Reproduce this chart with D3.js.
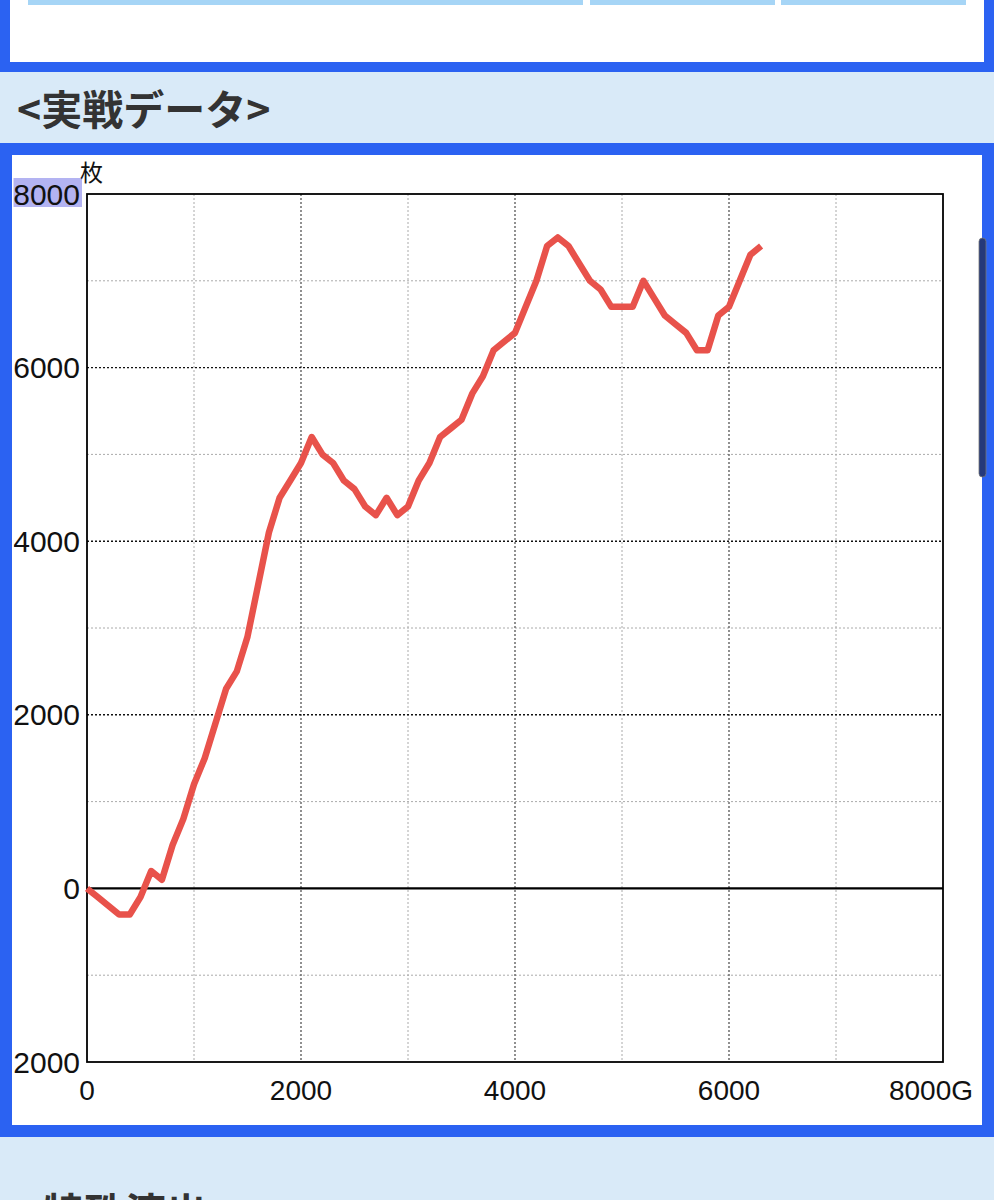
<!DOCTYPE html>
<html><head><meta charset="utf-8">
<script src="https://cdn.jsdelivr.net/npm/d3@7"></script>
<style>
html,body{margin:0;padding:0;background:#d9eaf8;overflow:hidden;}
svg{display:block;}
</style></head>
<body>
<svg id="c" width="994" height="1200"></svg>
<script>
// ---- data ----
const games = [0,100,200,300,400,500,600,700,800,900,1000,1100,1200,1300,1400,1500,1600,1700,1800,1900,2000,2100,2200,2300,2400,2500,2600,2700,2800,2900,3000,3100,3200,3300,3400,3500,3600,3700,3800,3900,4000,4100,4200,4300,4400,4500,4600,4700,4800,4900,5000,5100,5200,5300,5400,5500,5600,5700,5800,5900,6000,6100,6200,6300];
const coins = [0,-100,-200,-300,-300,-100,200,100,500,800,1200,1500,1900,2300,2500,2900,3500,4100,4500,4700,4900,5200,5000,4900,4700,4600,4400,4300,4500,4300,4400,4700,4900,5200,5300,5400,5700,5900,6200,6300,6400,6700,7000,7400,7500,7400,7200,7000,6900,6700,6700,6700,7000,6800,6600,6500,6400,6200,6200,6600,6700,7000,7300,7400];
const xTicks = [0,2000,4000,6000,8000];
const xTickLabels = ["0","2000","4000","6000","8000G"];
const yTicks = [8000,6000,4000,2000,0,-2000];
const yTickLabels = ["8000","6000","4000","2000","0","-2000"];
const xMinor = [1000,3000,5000,7000];
const yMinor = [7000,5000,3000,1000,-1000];
const yUnit = "枚";
const heading = "<実戦データ>";
const nextHeading = "特殊演出";

const BLUE = "#2b62f2";
const svg = d3.select("#c");
const JP = "'Noto Sans CJK JP','Noto Sans',sans-serif";

// ---- page decoration ----
svg.append("rect").attr("x",0).attr("y",0).attr("width",994).attr("height",1200).attr("fill","#d9eaf8");
svg.append("rect").attr("x",0).attr("y",-10).attr("width",994).attr("height",82).attr("fill",BLUE);
svg.append("rect").attr("x",10).attr("y",-10).attr("width",974).attr("height",72).attr("fill","#fff");
[[28,583],[590,775],[781,966]].forEach(([a,b])=>{
  svg.append("rect").attr("x",a).attr("y",0).attr("width",b-a).attr("height",5).attr("fill","#a6d5f6");
});
svg.append("text").attr("x",17).attr("y",125).text(heading)
  .attr("font-family",JP).attr("font-weight","bold")
  .attr("font-size",41).attr("fill","#333");
svg.append("rect").attr("x",0).attr("y",143).attr("width",994).attr("height",994).attr("fill",BLUE);
svg.append("rect").attr("x",12).attr("y",155).attr("width",970).attr("height",970).attr("fill","#fff");
svg.append("text").attr("x",43).attr("y",1228).text(nextHeading)
  .attr("font-family",JP).attr("font-weight","bold")
  .attr("font-size",41).attr("fill","#333");

// ---- chart ----
svg.append("clipPath").attr("id","inner").append("rect").attr("x",13.5).attr("y",155).attr("width",968).attr("height",970);
const g = svg.append("g").attr("clip-path","url(#inner)");
const x = d3.scaleLinear().domain([0,8000]).range([87,943]);
const y = d3.scaleLinear().domain([-2000,8000]).range([1062,194]);
const FONT = "'Liberation Sans',Arial,Helvetica,sans-serif";

g.selectAll(".vmin").data(xMinor).join("line")
  .attr("x1",d=>x(d)).attr("x2",d=>x(d)).attr("y1",y(8000)).attr("y2",y(-2000))
  .attr("stroke","#aaa").attr("stroke-width",1).attr("stroke-dasharray","2,2");
g.selectAll(".hmin").data(yMinor).join("line")
  .attr("y1",d=>y(d)).attr("y2",d=>y(d)).attr("x1",x(0)).attr("x2",x(8000))
  .attr("stroke","#aaa").attr("stroke-width",1).attr("stroke-dasharray","2,2");
g.selectAll(".vmaj").data(xTicks.filter(d=>d>0&&d<8000)).join("line")
  .attr("x1",d=>x(d)).attr("x2",d=>x(d)).attr("y1",y(8000)).attr("y2",y(-2000))
  .attr("stroke","#555").attr("stroke-width",1.3).attr("stroke-dasharray","2,2");
g.selectAll(".hmaj").data(yTicks.filter(d=>d>-2000&&d<8000&&d!==0)).join("line")
  .attr("y1",d=>y(d)).attr("y2",d=>y(d)).attr("x1",x(0)).attr("x2",x(8000))
  .attr("stroke","#111").attr("stroke-width",1.4).attr("stroke-dasharray","2,2");
g.append("line").attr("x1",x(0)).attr("x2",x(8000)).attr("y1",y(0)).attr("y2",y(0))
  .attr("stroke","#000").attr("stroke-width",2.4);
g.append("rect").attr("x",x(0)).attr("y",y(8000)).attr("width",x(8000)-x(0)).attr("height",y(-2000)-y(8000))
  .attr("fill","none").attr("stroke","#000").attr("stroke-width",1.8);

const yl = g.append("g");
yl.append("rect").attr("x",13).attr("y",178).attr("width",69).attr("height",29).attr("fill","#b3b3f2");
yl.selectAll("text.yt").data(yTicks).join("text").attr("class","yt")
  .attr("x",80).attr("y",d=>y(d)+10.5).attr("text-anchor","end")
  .attr("font-family",FONT).attr("font-size",30).attr("fill","#111")
  .text((d,i)=>yTickLabels[i]);
g.append("text").attr("x",80).attr("y",181).text(yUnit)
  .attr("font-family",JP).attr("font-size",23).attr("fill","#111");
g.selectAll("text.xt").data(xTicks).join("text").attr("class","xt")
  .attr("x",(d,i)=>i===xTicks.length-1 ? 973 : x(d))
  .attr("y",1100).attr("text-anchor",(d,i)=>i===xTicks.length-1?"end":"middle")
  .attr("font-family",FONT).attr("font-size",28).attr("fill","#111")
  .text((d,i)=>xTickLabels[i]);

const line = d3.line().x((d,i)=>x(games[i])).y(d=>y(d));
g.append("path").datum(coins).attr("d",line).attr("fill","none")
  .attr("stroke","#e8524b").attr("stroke-width",6.5).attr("stroke-linejoin","round").attr("stroke-linecap","butt");

svg.append("rect").attr("x",979).attr("y",238).attr("width",7).attr("height",239).attr("rx",3.5)
  .attr("fill","#25397a").attr("stroke","#777").attr("stroke-width",0.8);
</script>
</body></html>
